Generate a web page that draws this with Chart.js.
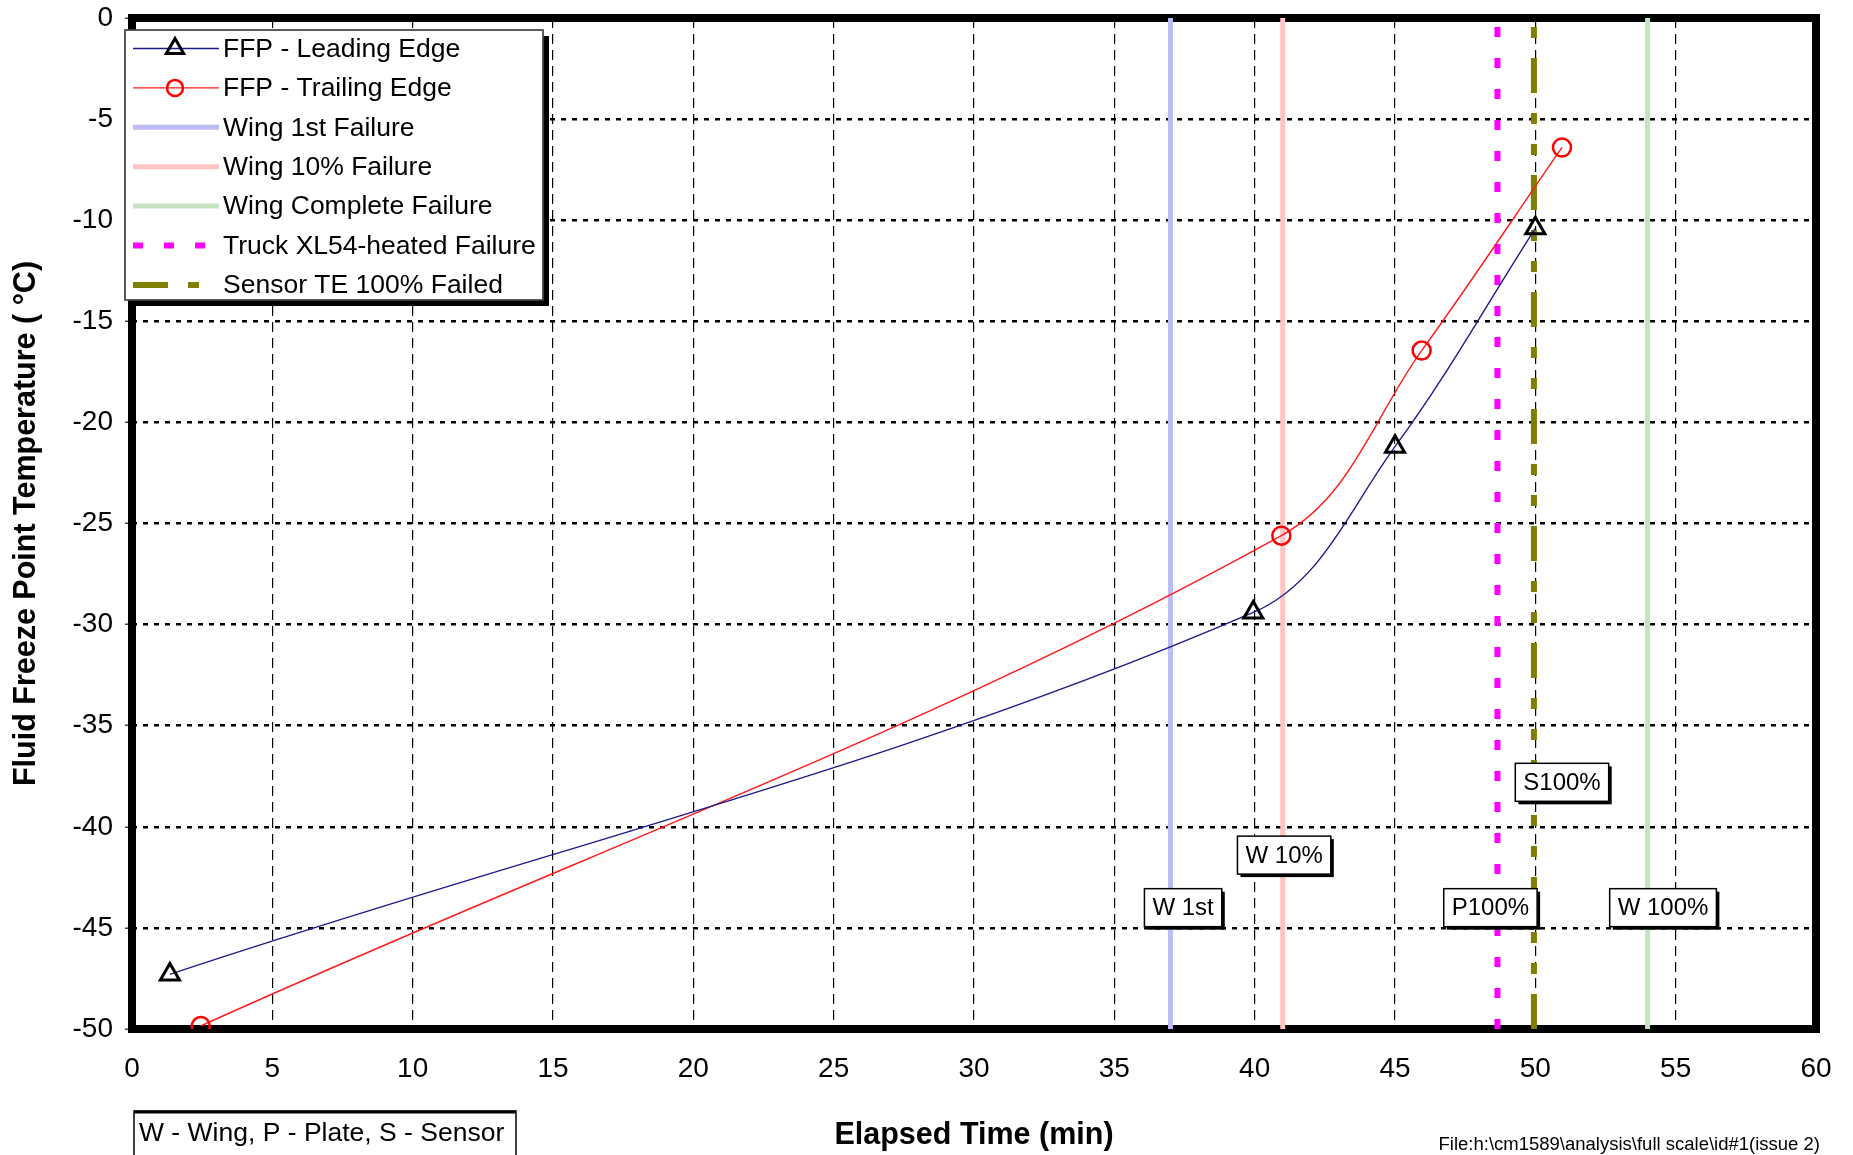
<!DOCTYPE html>
<html lang="en">
<head>
  <meta charset="UTF-8">
  <title>Fluid Freeze Point Temperature</title>
  <script src="https://cdn.jsdelivr.net/npm/chart.js"></script>
  <style>
    body { margin: 0; background: #fff; }
    #wrap { width: 1853px; height: 1155px; position: relative; }
  </style>
</head>
<body>
  <div id="wrap"><canvas id="ffpChart"></canvas></div>

  <script>
    // measured values (minutes, deg C)
    const leadTime = [1.35, 39.95, 45.0, 50.0];
    const leadTemp = [-47.3, -29.4, -21.2, -10.4];
    const trailTime = [2.45, 40.95, 45.95, 50.95];
    const trailTemp = [-49.85, -25.6, -16.45, -6.4];

    const failNames = ['Wing 1st Failure', 'Wing 10% Failure', 'Wing Complete Failure', 'Truck XL54-heated Failure', 'Sensor TE 100% Failed'];
    const failTimes = [37.0, 41.0, 54.0, 48.65, 49.95];

    const tagTexts = ['W 1st', 'W 10%', 'P100%', 'S100%', 'W 100%'];
    const tagTimes = [37.45, 41.05, 48.4, 50.95, 54.55];
    const tagTemps = [-44.0, -41.4, -44.0, -37.8, -44.0];

    const xMin = 0, xMax = 60, xStep = 5;
    const yMin = -50, yMax = 0, yStep = 5;

    const failStyles = [
      { color: '#bdbdf3', width: 5, dash: [] },
      { color: '#ffc4c4', width: 5, dash: [] },
      { color: '#c3e3c3', width: 5, dash: [] },
      { color: '#ff00ff', width: 6, dash: [10, 21] },
      { color: '#808000', width: 6, dash: [35, 20, 11, 20, 11, 20] }
    ];

    const pts = (xs, ys) => xs.map((x, i) => ({ x: x, y: ys[i] }));

    const datasets = [
      {
        label: 'FFP - Leading Edge',
        data: pts(leadTime, leadTemp),
        borderColor: '#1c1c8c', borderWidth: 1.4, tension: 0.35,
        pointStyle: 'triangle', pointRadius: 11, pointBorderWidth: 3,
        pointBorderColor: '#000', pointBackgroundColor: 'rgba(0,0,0,0)'
      },
      {
        label: 'FFP - Trailing Edge',
        data: pts(trailTime, trailTemp),
        borderColor: '#ff1a1a', borderWidth: 1.4, tension: 0.35,
        pointStyle: 'circle', pointRadius: 9, pointBorderWidth: 2.5,
        pointBorderColor: '#ff0000', pointBackgroundColor: 'rgba(0,0,0,0)'
      }
    ];
    failNames.forEach((name, i) => {
      datasets.push({
        label: name,
        data: [{ x: failTimes[i], y: yMin }, { x: failTimes[i], y: yMax }],
        borderColor: failStyles[i].color,
        borderWidth: failStyles[i].width,
        borderDash: failStyles[i].dash,
        borderCapStyle: 'butt',
        pointRadius: 0, tension: 0, clip: false
      });
    });

    const frame = {
      id: 'frame',
      beforeDatasetsDraw(chart) {
        const { ctx, chartArea: a } = chart;
        ctx.save();
        ctx.strokeStyle = '#000';
        ctx.lineWidth = 8;
        ctx.strokeRect(a.left, a.top, a.right - a.left, a.bottom - a.top);
        ctx.restore();
      }
    };

    function shadowBox(ctx, x, y, w, h, sh) {
      ctx.fillStyle = '#000';
      ctx.fillRect(x + sh, y + sh, w, h);
      ctx.fillStyle = '#fff';
      ctx.fillRect(x, y, w, h);
      ctx.strokeStyle = '#000';
      ctx.lineWidth = 1.5;
      ctx.strokeRect(x, y, w, h);
    }

    const tags = {
      id: 'tags',
      afterDatasetsDraw(chart) {
        const { ctx, scales } = chart;
        ctx.save();
        ctx.font = '24px "Liberation Sans", Arial, sans-serif';
        ctx.textBaseline = 'middle';
        ctx.textAlign = 'center';
        tagTexts.forEach((t, i) => {
          const cx = scales.x.getPixelForValue(tagTimes[i]);
          const cy = scales.y.getPixelForValue(tagTemps[i]);
          const w = ctx.measureText(t).width + 16;
          const h = 38;
          shadowBox(ctx, cx - w / 2, cy - h / 2, w, h, 3);
          ctx.fillStyle = '#000';
          ctx.fillText(t, cx, cy + 1);
        });
        ctx.restore();
      }
    };

    const legendBox = {
      id: 'legendBox',
      afterDraw(chart) {
        const { ctx } = chart;
        const bx = 125, by = 30, bw = 418, bh = 270;
        ctx.save();
        shadowBox(ctx, bx, by, bw, bh, 6);
        ctx.strokeStyle = '#777';
        ctx.lineWidth = 1;
        ctx.strokeRect(bx, by, bw, bh);
        ctx.font = '26.5px "Liberation Sans", Arial, sans-serif';
        ctx.textBaseline = 'middle';
        ctx.textAlign = 'left';
        chart.data.datasets.forEach((ds, i) => {
          const y = 48.5 + i * 39.4;
          ctx.save();
          ctx.strokeStyle = ds.borderColor;
          ctx.lineWidth = ds.borderWidth;
          ctx.setLineDash(ds.borderDash || []);
          ctx.beginPath();
          ctx.moveTo(133, y);
          ctx.lineTo(219, y);
          ctx.stroke();
          ctx.restore();
          if (ds.pointRadius > 0) {
            ctx.save();
            ctx.strokeStyle = ds.pointBorderColor;
            ctx.lineWidth = ds.pointBorderWidth;
            ctx.beginPath();
            if (ds.pointStyle === 'triangle') {
              const r = 10;
              ctx.moveTo(175, y - r);
              ctx.lineTo(175 + r * 0.866, y + r * 0.5);
              ctx.lineTo(175 - r * 0.866, y + r * 0.5);
              ctx.closePath();
            } else {
              ctx.arc(175, y, 8, 0, Math.PI * 2);
            }
            ctx.stroke();
            ctx.restore();
          }
          ctx.fillStyle = '#000';
          ctx.fillText(ds.label, 223, y + 1);
        });
        ctx.restore();
      }
    };

    const notes = {
      id: 'notes',
      afterDraw(chart) {
        const { ctx } = chart;
        ctx.save();
        ctx.fillStyle = '#fff';
        ctx.fillRect(134, 1111, 382, 50);
        ctx.strokeStyle = '#000';
        ctx.lineWidth = 1.5;
        ctx.strokeRect(134, 1111, 382, 50);
        ctx.lineWidth = 3;
        ctx.beginPath();
        ctx.moveTo(134, 1112);
        ctx.lineTo(516, 1112);
        ctx.stroke();
        ctx.fillStyle = '#000';
        ctx.font = '26.5px "Liberation Sans", Arial, sans-serif';
        ctx.textBaseline = 'middle';
        ctx.textAlign = 'left';
        ctx.fillText('W - Wing, P - Plate, S - Sensor', 139, 1134);
        ctx.font = '18.5px "Liberation Sans", Arial, sans-serif';
        ctx.textAlign = 'right';
        ctx.textBaseline = 'alphabetic';
        ctx.fillText('File:h:\\cm1589\\analysis\\full scale\\id#1(issue 2)', 1820, 1150);
        ctx.restore();
      }
    };

    const tickFont = { family: '"Liberation Sans", Arial, sans-serif', size: 28 };
    const titleFont = { family: '"Liberation Sans", Arial, sans-serif', size: 30.5, weight: 'bold' };

    new Chart(document.getElementById('ffpChart').getContext('2d'), {
      type: 'line',
      data: { datasets: datasets },
      options: {
        responsive: true,
        maintainAspectRatio: false,
        animation: false,
        layout: { padding: { top: 18, right: 37, left: 0, bottom: 0 } },
        plugins: { legend: { display: false }, tooltip: { enabled: false } },
        scales: {
          x: {
            type: 'linear', min: xMin, max: xMax,
            ticks: { stepSize: xStep, color: '#000', font: tickFont, padding: 23 },
            grid: { color: '#000', lineWidth: 1.2, drawTicks: false },
            border: { display: false, dash: [10, 6] },
            title: { display: true, text: 'Elapsed Time (min)', color: '#000', font: titleFont, padding: { top: 0, bottom: 1 } },
            afterFit(s) { s.height = 126; s.paddingLeft = 0; s.paddingRight = 0; }
          },
          y: {
            min: yMin, max: yMax,
            ticks: { stepSize: yStep, color: '#000', font: tickFont, padding: 12 },
            grid: { color: '#000', lineWidth: 2.5, tickLength: 7, tickWidth: 1.5, tickColor: '#444', tickBorderDash: [] },
            border: { display: false, dash: [5, 6] },
            title: { display: true, text: 'Fluid Freeze Point Temperature ( °C)', color: '#000', font: titleFont, padding: { top: 8, bottom: 0 } },
            afterFit(s) { s.width = 132; s.paddingTop = 0; s.paddingBottom = 0; }
          }
        }
      },
      plugins: [frame, tags, legendBox, notes]
    });
  </script>
</body>
</html>
